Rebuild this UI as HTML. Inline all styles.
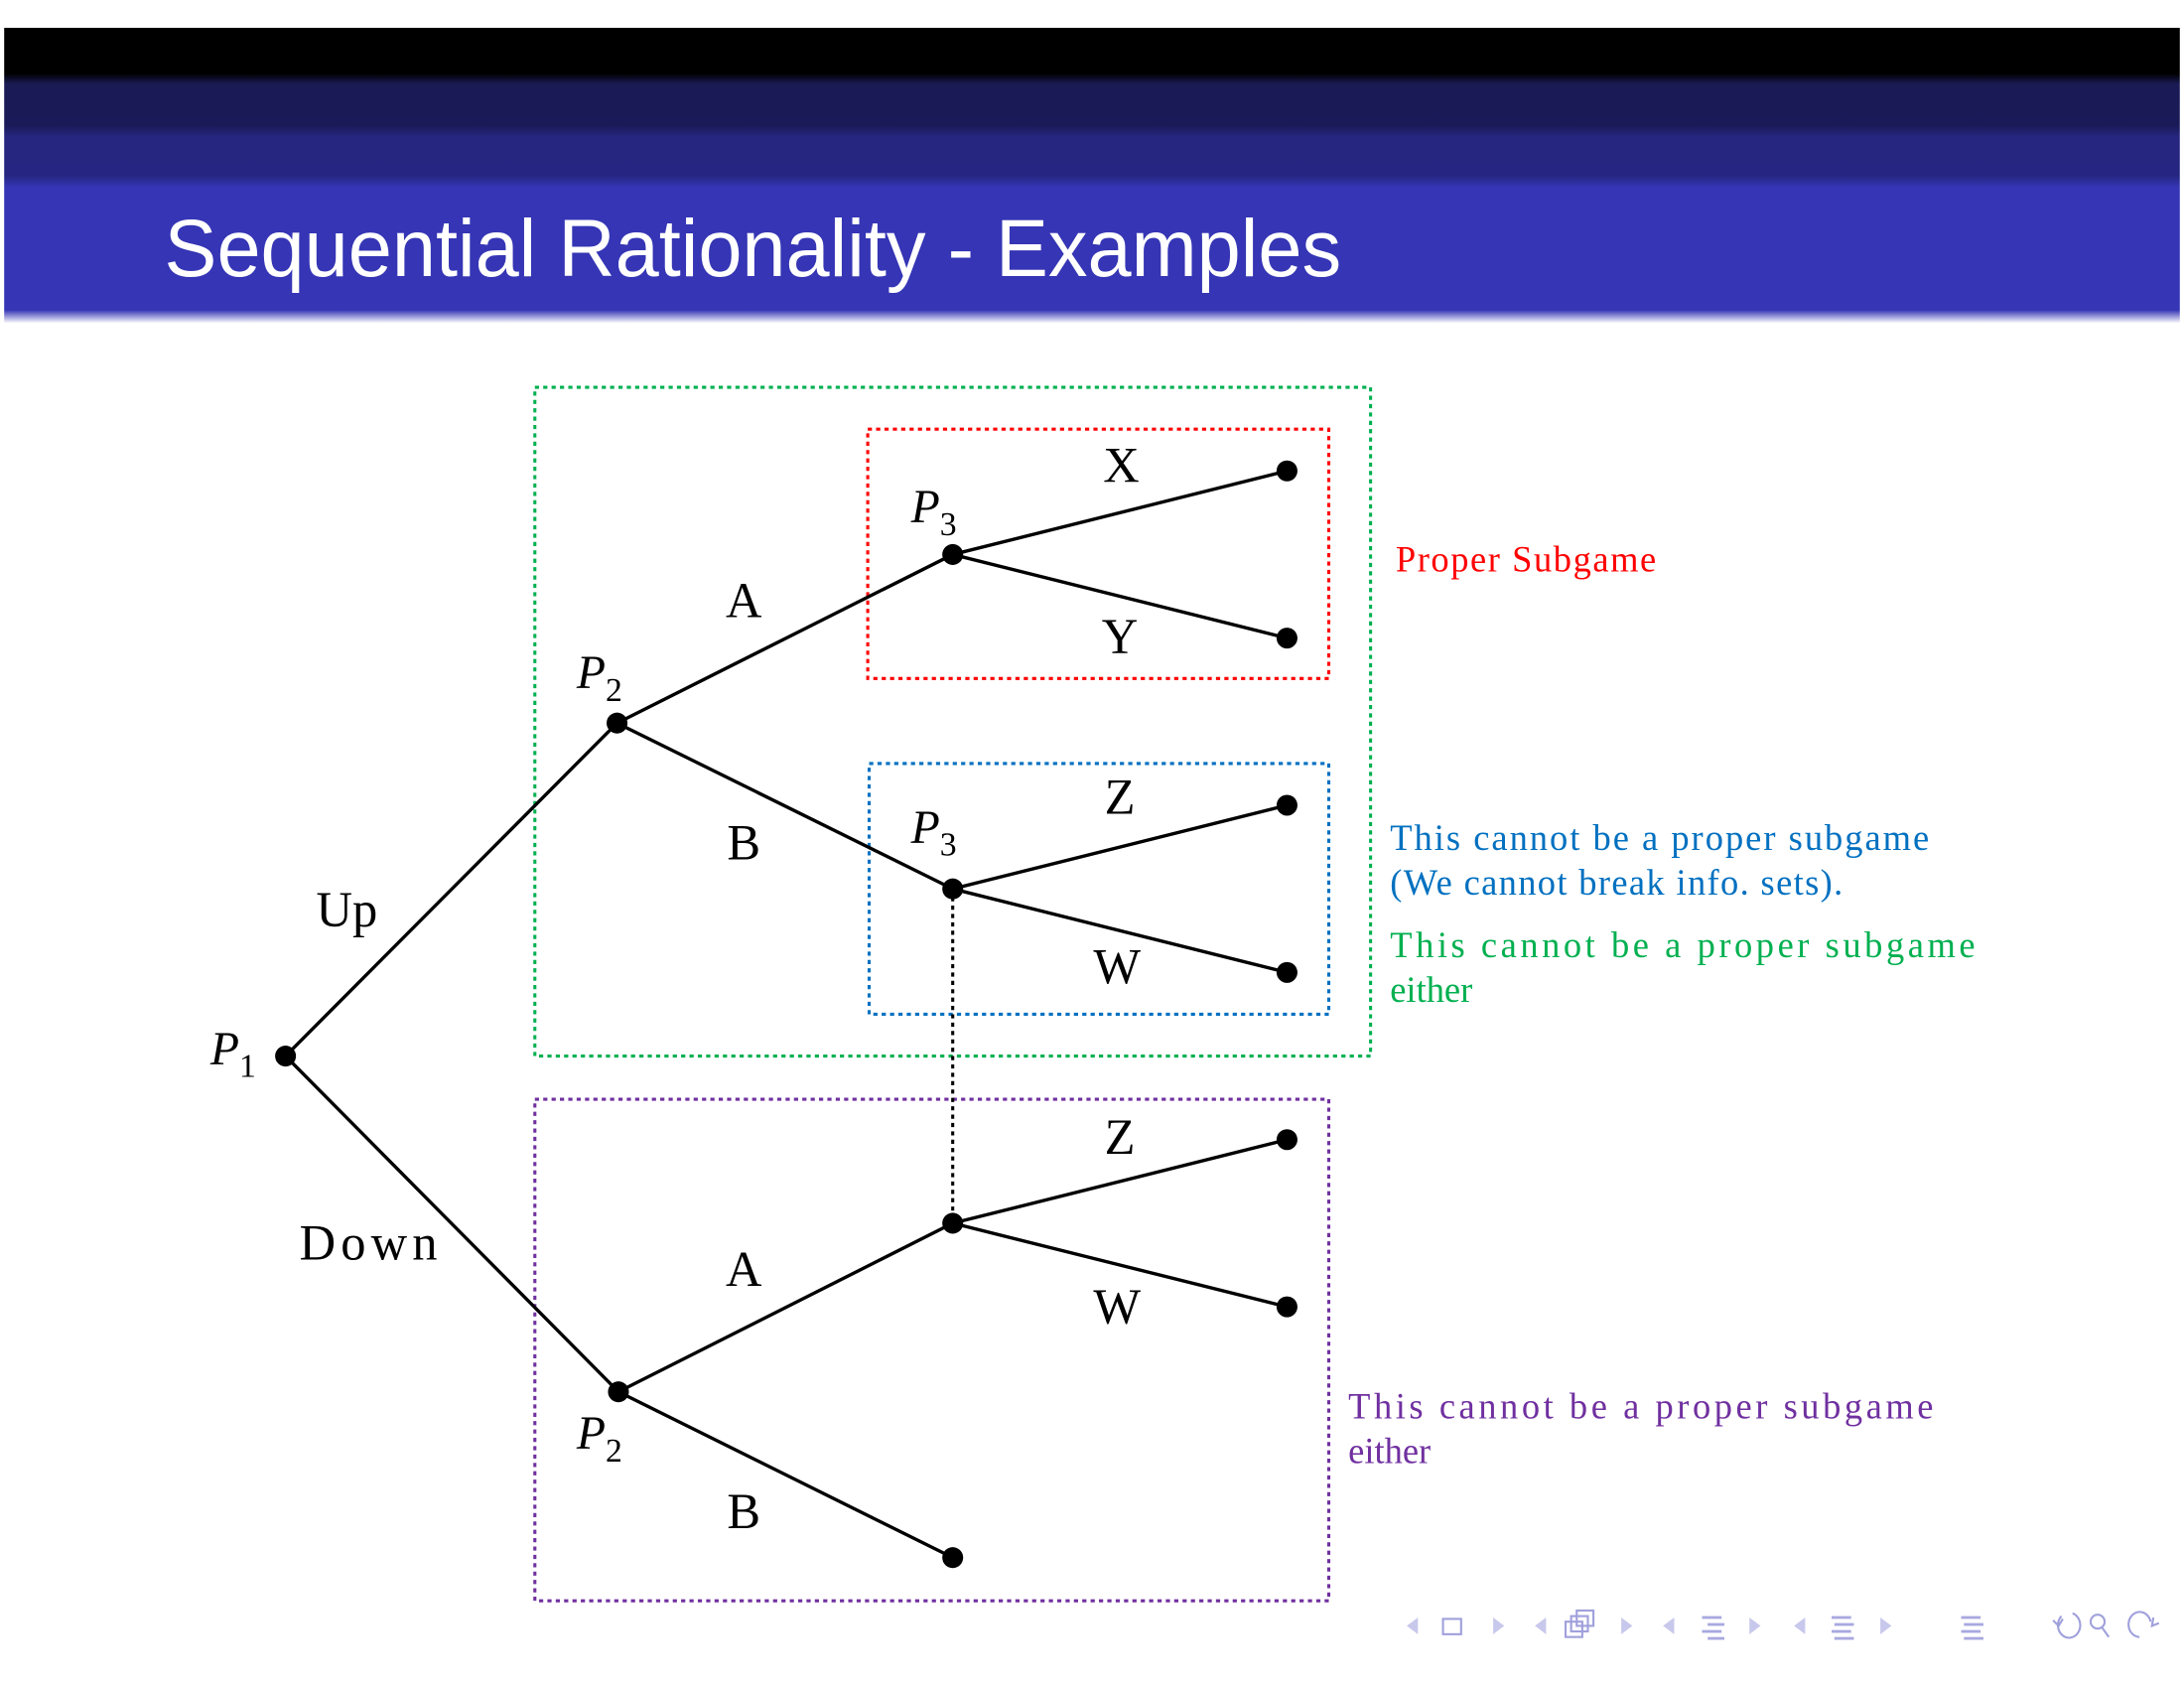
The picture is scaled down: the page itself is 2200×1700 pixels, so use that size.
<!DOCTYPE html>
<html><head><meta charset="utf-8"><style>
html,body{margin:0;padding:0;background:#fff;width:2200px;height:1700px;overflow:hidden}
svg{display:block}
.s{font-family:"Liberation Serif",serif}
</style></head><body>
<svg width="2200" height="1700" viewBox="0 0 1568 1211.6" preserveAspectRatio="none" xmlns="http://www.w3.org/2000/svg">
<defs>
<linearGradient id="hg" x1="0" y1="0" x2="0" y2="1">
<stop offset="0" stop-color="#000"/>
<stop offset="0.155" stop-color="#000"/>
<stop offset="0.19" stop-color="#1a1a55"/>
<stop offset="0.33" stop-color="#1a1a58"/>
<stop offset="0.37" stop-color="#262680"/>
<stop offset="0.5" stop-color="#262682"/>
<stop offset="0.54" stop-color="#3535b5"/>
<stop offset="0.955" stop-color="#3535b5"/>
<stop offset="1" stop-color="#fff"/>
</linearGradient>
</defs>
<rect x="3" y="20" width="1562" height="212" fill="url(#hg)"/>
<text x="118" y="198" fill="#fff" font-family="Liberation Sans,sans-serif" font-size="58" textLength="845" lengthAdjust="spacingAndGlyphs">Sequential Rationality - Examples</text>

<g fill="none" stroke-width="2.2" stroke-dasharray="3,3">
<rect x="384" y="278" width="600" height="480" stroke="#00b050"/>
<rect x="623" y="308" width="331" height="179" stroke="#ff0000"/>
<rect x="624" y="548" width="330" height="180" stroke="#0070c0"/>
<rect x="384" y="789" width="570" height="360" stroke="#7030a0"/>
<line x1="684" y1="638" x2="684" y2="878" stroke="#000"/>
</g>

<g stroke="#000" stroke-width="2.4" fill="none">
<line x1="205" y1="758" x2="443" y2="519"/>
<line x1="205" y1="758" x2="444" y2="999"/>
<line x1="443" y1="519" x2="684" y2="398"/>
<line x1="443" y1="519" x2="684" y2="638"/>
<line x1="444" y1="999" x2="684" y2="878"/>
<line x1="444" y1="999" x2="684" y2="1118"/>
<line x1="684" y1="398" x2="924" y2="338"/>
<line x1="684" y1="398" x2="924" y2="458"/>
<line x1="684" y1="638" x2="924" y2="578"/>
<line x1="684" y1="638" x2="924" y2="698"/>
<line x1="684" y1="878" x2="924" y2="818"/>
<line x1="684" y1="878" x2="924" y2="938"/>
</g>
<g fill="#000">
<circle cx="205" cy="758" r="7.5"/><circle cx="443" cy="519" r="7.5"/><circle cx="444" cy="999" r="7.5"/>
<circle cx="684" cy="398" r="7.5"/><circle cx="684" cy="638" r="7.5"/><circle cx="684" cy="878" r="7.5"/>
<circle cx="684" cy="1118" r="7.5"/>
<circle cx="924" cy="338" r="7.5"/><circle cx="924" cy="458" r="7.5"/><circle cx="924" cy="578" r="7.5"/>
<circle cx="924" cy="698" r="7.5"/><circle cx="924" cy="818" r="7.5"/><circle cx="924" cy="938" r="7.5"/>
</g>

<g class="s" font-size="36" fill="#000">
<text x="792" y="346">X</text>
<text x="791" y="469">Y</text>
<text x="521" y="443">A</text>
<text x="522" y="617">B</text>
<text x="793" y="584">Z</text>
<text x="785" y="706">W</text>
<text x="227" y="665">Up</text>
<text x="215" y="904" textLength="99">Down</text>
<text x="793" y="828">Z</text>
<text x="785" y="950">W</text>
<text x="521" y="923">A</text>
<text x="522" y="1097">B</text>
</g>
<g class="s" font-size="34" font-style="italic" fill="#000">
<text x="654" y="375">P<tspan font-size="24" font-style="normal" dy="9">3</tspan></text>
<text x="654" y="605">P<tspan font-size="24" font-style="normal" dy="9">3</tspan></text>
<text x="414" y="494">P<tspan font-size="24" font-style="normal" dy="9">2</tspan></text>
<text x="414" y="1040">P<tspan font-size="24" font-style="normal" dy="9">2</tspan></text>
<text x="151" y="764">P<tspan font-size="24" font-style="normal" dy="9">1</tspan></text>
</g>

<g class="s" font-size="26">
<text x="1002" y="410" fill="#ff0000" textLength="187">Proper Subgame</text>
<text x="998" y="610" fill="#0070c0" textLength="387">This cannot be a proper subgame</text>
<text x="998" y="642" fill="#0070c0" textLength="325">(We cannot break info. sets).</text>
<text x="998" y="687" fill="#00b050" textLength="420" lengthAdjust="spacing">This cannot be a proper subgame</text>
<text x="998" y="719" fill="#00b050">either</text>
<text x="968" y="1018" fill="#7030a0" textLength="420" lengthAdjust="spacing">This cannot be a proper subgame</text>
<text x="968" y="1050" fill="#7030a0">either</text>
</g>

<g fill="#c8c8ec" stroke="none">
<polygon points="1018,1161 1010,1167 1018,1173"/>
<polygon points="1072,1161 1080,1167 1072,1173"/>
<polygon points="1110,1161 1102,1167 1110,1173"/>
<polygon points="1164,1161 1172,1167 1164,1173"/>
<polygon points="1202,1161 1194,1167 1202,1173"/>
<polygon points="1256,1161 1264,1167 1256,1173"/>
<polygon points="1296,1161 1288,1167 1296,1173"/>
<polygon points="1350,1161 1358,1167 1350,1173"/>
</g>
<g fill="none" stroke="#a0a0dc" stroke-width="1.5">
<rect x="1036" y="1162" width="13" height="11"/>
<rect x="1124" y="1164" width="12" height="11"/><rect x="1128" y="1160" width="12" height="11"/><rect x="1132" y="1156" width="12" height="11"/>
<path d="M1480,1160 a8,9 0 1 0 8,-2 M1474,1163 l4,4 l3,-5"/>
<circle cx="1506" cy="1164" r="5"/><line x1="1509" y1="1168" x2="1514" y2="1175"/>
<path d="M1536,1175 a8,9 0 1 1 8,-11 M1546,1161 l-1,6 l5,-2"/>
</g>
<g fill="#a8a8e0">
<rect x="1222" y="1160" width="14" height="2"/><rect x="1226" y="1165" width="12" height="2"/><rect x="1222" y="1170" width="14" height="2"/><rect x="1226" y="1175" width="12" height="2"/>
<rect x="1315" y="1160" width="14" height="2"/><rect x="1317" y="1165" width="14" height="2"/><rect x="1315" y="1170" width="14" height="2"/><rect x="1317" y="1175" width="14" height="2"/>
<rect x="1408" y="1160" width="14" height="2"/><rect x="1410" y="1165" width="14" height="2"/><rect x="1408" y="1170" width="14" height="2"/><rect x="1410" y="1175" width="14" height="2"/>
</g>
</svg>
</body></html>
